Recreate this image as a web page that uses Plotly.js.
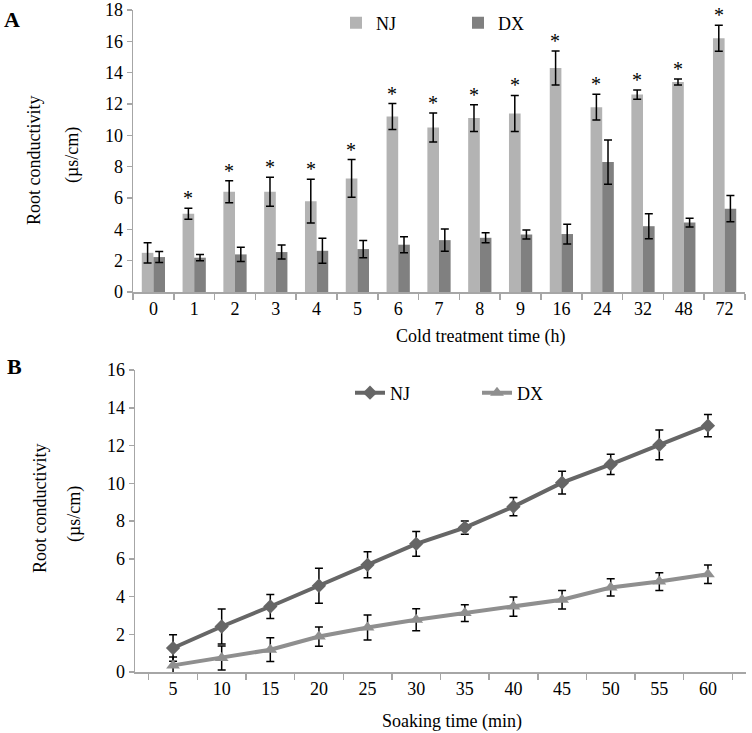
<!DOCTYPE html>
<html>
<head>
<meta charset="utf-8">
<script src="https://cdn.plot.ly/plotly-3.0.1.min.js"></script>
<style>html,body{margin:0;padding:0;background:#fff;}#chart{width:752px;height:733px;}</style>
</head>
<body>
<div id="chart"></div>
<script>
// ---- Panel A data (cold treatment) ----
var coldTimes = ['0','1','2','3','4','5','6','7','8','9','16','24','32','48','72'];
var njCold    = [2.5, 5.0, 6.4, 6.4, 5.8, 7.25, 11.2, 10.5, 11.1, 11.4, 14.3, 11.8, 12.6, 13.4, 16.2];
var njColdErr = [0.65, 0.35, 0.7, 0.93, 1.4, 1.2, 0.83, 0.92, 0.86, 1.15, 1.08, 0.82, 0.29, 0.19, 0.83];
var dxCold    = [2.23, 2.19, 2.4, 2.55, 2.63, 2.74, 3.02, 3.31, 3.46, 3.67, 3.7, 8.29, 4.2, 4.43, 5.32];
var dxColdErr = [0.35, 0.2, 0.45, 0.45, 0.8, 0.55, 0.51, 0.71, 0.32, 0.29, 0.63, 1.41, 0.8, 0.28, 0.84];
var starMarks = ['', '*', '*', '*', '*', '*', '*', '*', '*', '*', '*', '*', '*', '*', '*'];

// ---- Panel B data (soaking) ----
var soakTimes = ['5','10','15','20','25','30','35','40','45','50','55','60'];
var njSoak    = [1.27, 2.41, 3.47, 4.57, 5.68, 6.79, 7.65, 8.76, 10.03, 11.0, 12.03, 13.05];
var njSoakErr = [0.7, 0.93, 0.63, 0.93, 0.69, 0.66, 0.35, 0.48, 0.6, 0.53, 0.79, 0.59];
var dxSoak    = [0.35, 0.74, 1.18, 1.88, 2.36, 2.77, 3.12, 3.47, 3.83, 4.48, 4.79, 5.18];
var dxSoakErr = [0.45, 0.64, 0.63, 0.51, 0.66, 0.58, 0.44, 0.51, 0.49, 0.46, 0.47, 0.49];

var FONT = 'Liberation Serif';
var AXC = '#a6a6a6';

var traces = [
  {type:'bar', name:'NJ', x:coldTimes, y:njCold, xaxis:'x', yaxis:'y', legend:'legend',
   marker:{color:'#b3b3b3'},
   error_y:{type:'data', array:njColdErr, visible:true, color:'#000', thickness:1.5, width:4}},
  {type:'bar', name:'DX', x:coldTimes, y:dxCold, xaxis:'x', yaxis:'y', legend:'legend',
   marker:{color:'#808080'},
   error_y:{type:'data', array:dxColdErr, visible:true, color:'#000', thickness:1.5, width:4}},
  {type:'scatter', mode:'lines+markers', name:'NJ', x:soakTimes, y:njSoak, xaxis:'x2', yaxis:'y2', legend:'legend2',
   line:{color:'#666666', width:4}, marker:{symbol:'diamond', size:11, color:'#666666'},
   error_y:{type:'data', array:njSoakErr, visible:true, color:'#000', thickness:1.5, width:4}},
  {type:'scatter', mode:'lines+markers', name:'DX', x:soakTimes, y:dxSoak, xaxis:'x2', yaxis:'y2', legend:'legend2',
   line:{color:'#8f8f8f', width:4}, marker:{symbol:'triangle-up', size:12, color:'#8f8f8f'},
   error_y:{type:'data', array:dxSoakErr, visible:true, color:'#000', thickness:1.5, width:4}}
];

function px(x){return x/752;}
function py(y){return 1 - y/733;}

var annotations = [];
coldTimes.forEach(function(c, i){
  if (starMarks[i]) {
    // category axis: annotation x given as the category index
    annotations.push({xref:'x', yref:'y', x:i, y:njCold[i] + njColdErr[i], text:starMarks[i],
      showarrow:false, yanchor:'bottom', xshift:-6, yshift:-3, font:{family:FONT, size:20, color:'#000'}});
  }
});
function txt(t, x, y, size, extra){
  var a = {xref:'paper', yref:'paper', x:px(x), y:py(y), text:t, showarrow:false,
    xanchor:'center', yanchor:'middle', font:{family:FONT, size:size, color:'#000'}};
  for (var k in extra) a[k] = extra[k];
  annotations.push(a);
}
txt('<b>A</b>', 12, 19, 22);
txt('<b>B</b>', 14, 366, 22);
txt('Root conductivity', 34, 160, 18, {textangle:-90});
txt('(µs/cm)', 72, 155, 18, {textangle:-90});
txt('Root conductivity', 40, 508, 18, {textangle:-90});
txt('(µs/cm)', 74, 514, 18, {textangle:-90});
txt('Cold treatment time (h)', 480, 337, 18);
txt('Soaking time (min)', 452, 721, 18);

var axisCommon = {showgrid:false, zeroline:false, showline:true, linecolor:AXC, linewidth:1.5,
  ticks:'outside', tickcolor:AXC, tickwidth:1.5, ticklen:5,
  tickfont:{family:FONT, size:18, color:'#000'}, fixedrange:true};
function ax(extra){var o = {}; for (var k in axisCommon) o[k] = axisCommon[k]; for (var k2 in extra) o[k2] = extra[k2]; return o;}

var layout = {
  width:752, height:733, margin:{l:0, r:0, t:0, b:0},
  paper_bgcolor:'#fff', plot_bgcolor:'#fff',
  font:{family:FONT, size:18, color:'#000'},
  barmode:'group', bargap:0.43, bargroupgap:0,
  xaxis: ax({domain:[px(133), px(745)], anchor:'y', type:'category', tickson:'boundaries', ticklen:6,
    range:[-0.5, coldTimes.length - 0.5], autorange:false}),
  yaxis: ax({domain:[py(292), py(10)], anchor:'x', range:[0,18], dtick:2, tick0:0, autorange:false}),
  xaxis2: ax({domain:[px(135), px(746)], anchor:'y2', type:'category', tickson:'boundaries', ticklen:6}),
  yaxis2: ax({domain:[py(672), py(370)], anchor:'x2', range:[0,16], dtick:2, tick0:0, autorange:false}),
  legend: {orientation:'h', x:px(336), y:py(23), xanchor:'left', yanchor:'middle',
    bgcolor:'rgba(0,0,0,0)', font:{family:FONT, size:18, color:'#000'}, entrywidth:77, entrywidthmode:'pixels'},
  legend2: {orientation:'h', x:px(350), y:py(393), xanchor:'left', yanchor:'middle',
    bgcolor:'rgba(0,0,0,0)', font:{family:FONT, size:18, color:'#000'}, entrywidth:82, entrywidthmode:'pixels'},
  showlegend:true,
  annotations: annotations
};

Plotly.newPlot('chart', traces, layout, {displayModeBar:false, staticPlot:true});
</script>
</body>
</html>
